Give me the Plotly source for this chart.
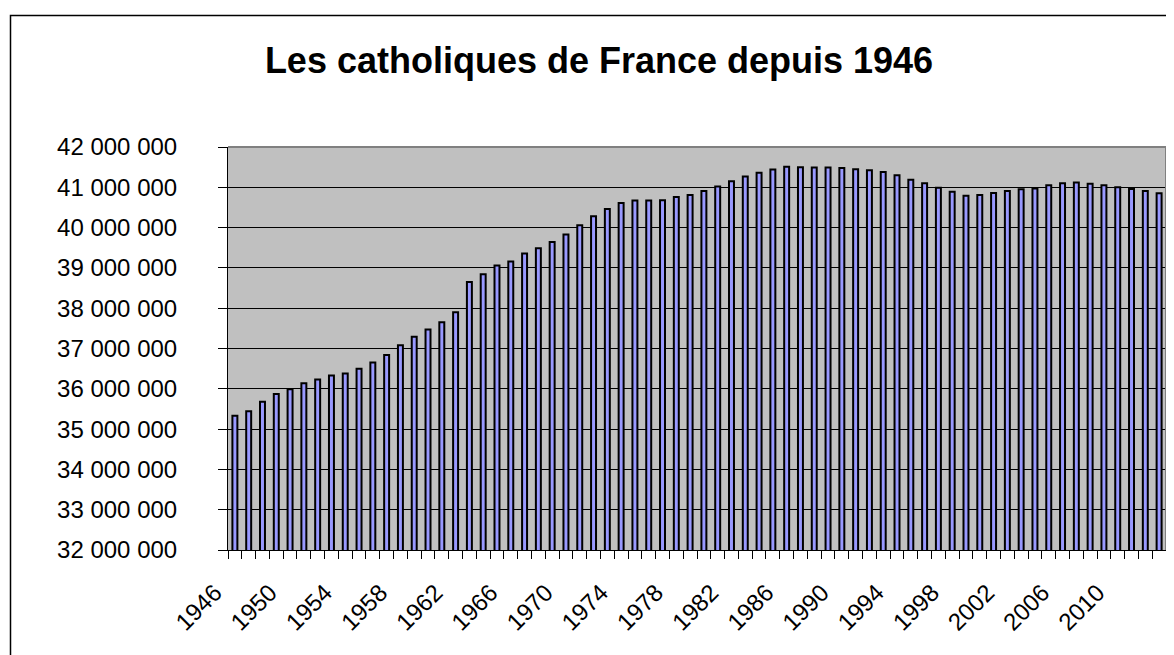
import plotly.graph_objects as go

years = list(range(1946, 2014))
catholiques = [
    35330000, 35440000, 35680000, 35870000, 35990000, 36140000, 36230000, 36330000,
    36380000, 36500000, 36650000, 36840000, 37080000, 37290000, 37470000, 37650000,
    37900000, 38650000, 38840000, 39060000, 39160000, 39360000, 39490000, 39640000,
    39830000, 40060000, 40280000, 40460000, 40610000, 40670000, 40670000, 40680000,
    40760000, 40810000, 40910000, 41020000, 41150000, 41270000, 41360000, 41440000,
    41510000, 41500000, 41490000, 41490000, 41480000, 41450000, 41420000, 41380000,
    41300000, 41190000, 41100000, 40990000, 40890000, 40790000, 40810000, 40860000,
    40910000, 40950000, 40970000, 41050000, 41100000, 41120000, 41090000, 41050000,
    41000000, 40960000, 40910000, 40850000,
]
tick_years = list(range(1946, 2014, 4))
title_text = "Les catholiques de France depuis 1946"

# page has an 8px body margin: figure origin is at page (8, 8)
OFF = 8
W, H = 1174 - OFF, 655 - OFF
L = 228 - OFF
T = 147 - OFF
pw = 1166 - 228
ph = 550 - 147
R = W - L - pw
B = H - T - ph

def px_x(px):
    return (px - OFF - L) / pw

def px_y(py):
    return (T + ph - (py - OFF)) / ph

fig = go.Figure(go.Bar(
    x=years, y=catholiques,
    marker=dict(color="#9999FF", line=dict(color="black", width=2)),
    hoverinfo="x+y",
))

fig.update_layout(
    width=W, height=H,
    margin=dict(l=L, r=R, t=T, b=B),
    paper_bgcolor="white",
    plot_bgcolor="#C0C0C0",
    bargap=0.64,
    separators=", ",
    font=dict(family="Liberation Sans, Arial, sans-serif", color="black"),
    showlegend=False,
    title=dict(
        text="<b>" + title_text + "</b>",
        x=(599 - OFF) / W, xanchor="center",
        y=1 - (60 - OFF) / H, yanchor="middle",
        font=dict(size=36, family="Liberation Sans, Arial, sans-serif", color="black"),
    ),
    xaxis=dict(
        range=[1945.5, 2013.5],
        tickmode="array", tickvals=tick_years, ticktext=[str(y) for y in tick_years],
        tickangle=-45,
        ticks="",
        minor=dict(ticks="outside", ticklen=8, tickcolor="black", tick0=1945.5, dtick=1, showgrid=False),
        showgrid=False, zeroline=False,
        showline=True, linecolor="black", linewidth=1,
        tickfont=dict(size=24),
        ticklabelstandoff=18,
        ticklabelshift=-20,
    ),
    yaxis=dict(
        range=[32000000, 42000000],
        dtick=1000000, tick0=32000000,
        tickformat=",d",
        ticks="outside", ticklen=9, tickcolor="black",
        showgrid=True, gridcolor="black", gridwidth=1,
        zeroline=False,
        showline=True, linecolor="black", linewidth=1,
        tickfont=dict(size=24),
        ticklabelstandoff=36,
    ),
    shapes=[
        dict(type="line", xref="paper", yref="paper", x0=0, x1=1, y0=1, y1=1,
             line=dict(color="#808080", width=2)),
        dict(type="line", xref="paper", yref="paper", x0=1, x1=1, y0=0, y1=1,
             line=dict(color="#808080", width=2)),
        dict(type="rect", xref="paper", yref="paper",
             x0=px_x(10.5), x1=px_x(1190), y0=px_y(680), y1=px_y(15.5),
             line=dict(color="black", width=1.5), fillcolor="rgba(0,0,0,0)"),
    ],
)

fig.write_html("out.html")
